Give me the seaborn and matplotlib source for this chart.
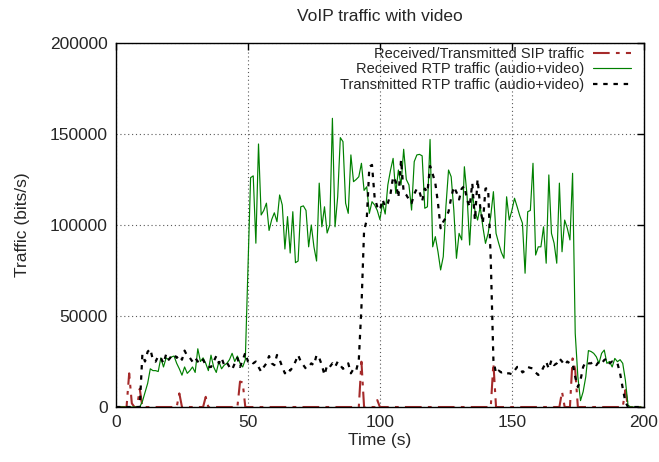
import numpy as np
import pandas as pd
import matplotlib
matplotlib.use("Agg")
import matplotlib.pyplot as plt
import seaborn as sns

# --- DATA (one sample per second) ---
time_s = np.arange(200)

sip_traffic = [
    0, 0, 0, 0, 0, 18500, 2000, 0, 0, 10000,
    0, 0, 0, 0, 0, 0, 0, 0, 0, 0,
    0, 0, 0, 0, 7500, 0, 0, 0, 0, 0,
    0, 0, 0, 0, 5600, 0, 0, 0, 0, 0,
    0, 0, 0, 0, 0, 0, 0, 14000, 13500, 0,
    0, 0, 0, 0, 0, 0, 0, 0, 0, 0,
    0, 0, 0, 0, 0, 0, 0, 0, 0, 0,
    0, 0, 0, 0, 0, 0, 0, 0, 0, 0,
    0, 0, 0, 0, 0, 0, 0, 0, 0, 0,
    0, 0, 0, 24900, 0, 0, 0, 0, 0, 3800,
    0, 0, 0, 0, 0, 0, 0, 0, 0, 0,
    0, 0, 0, 0, 0, 0, 0, 0, 0, 0,
    0, 0, 0, 0, 0, 0, 0, 0, 0, 0,
    0, 0, 0, 0, 0, 0, 0, 0, 0, 0,
    0, 0, 0, 24000, 0, 0, 0, 0, 0, 0,
    0, 0, 0, 0, 0, 0, 0, 0, 0, 0,
    0, 0, 0, 0, 0, 0, 0, 0, 0, 8400,
    0, 0, 0, 26700, 20300, 0, 0, 0, 0, 0,
    0, 0, 0, 0, 0, 0, 0, 0, 0, 0,
    0, 0, 0, 9300, 0, 0, 0, 0, 0, 0,
]

rtp_received = [
    0, 0, 0, 0, 0, 0, 0, 0, 0, 0,
    3000, 8000, 13000, 21000, 20000, 20000, 19500, 27000, 22000, 27000,
    26000, 27500, 28000, 24000, 21000, 17500, 22000, 18500, 20000, 22000,
    19000, 32000, 25000, 27000, 24000, 20000, 28500, 22000, 19000, 25000,
    21000, 23000, 24000, 26000, 29500, 25000, 28000, 24000, 22000, 26000,
    75000, 126000, 127000, 90000, 144500, 105500, 108000, 112000, 97000, 103000,
    106700, 101800, 116500, 111000, 86800, 104600, 84600, 107300, 79300, 80200,
    110000, 110500, 108000, 88000, 100000, 88000, 80200, 123000, 99000, 110000,
    95600, 100000, 158600, 99000, 115500, 148000, 145800, 112000, 106400, 138500,
    123800, 125000, 126500, 133900, 119000, 121000, 106400, 112800, 111000, 108000,
    103000, 112000, 106000, 122000, 130000, 136600, 117400, 130200, 122000, 141600,
    125000, 122000, 108200, 134800, 138500, 138800, 138000, 109200, 110000, 147000,
    88000, 93600, 85300, 75300, 82600, 110000, 130200, 126500, 108200, 81700,
    95400, 91800, 132000, 116500, 89000, 117000, 108000, 102700, 110000, 99000,
    89900, 95400, 105000, 118300, 95400, 90000, 85000, 81700, 115500, 102700,
    108000, 114700, 110000, 105000, 101000, 73500, 107300, 108000, 133900, 83500,
    88000, 88000, 99000, 79000, 127500, 95400, 90000, 79000, 123000, 85300,
    102700, 98200, 91800, 128400, 40500, 16600, 3500, 8400, 16600, 31000,
    30500, 29500, 27600, 24000, 29500, 31300, 24000, 25000, 22000, 26700,
    24900, 26000, 24000, 14800, 1000, 0, 0, 0, 0, 0,
]

rtp_transmitted = [
    0, 0, 0, 0, 0, 0, 0, 0, 0, 0,
    29000, 25000, 30400, 31900, 25800, 24900, 28000, 27000, 24000, 29000,
    26000, 28000, 29000, 27000, 28500, 26000, 31000, 28000, 27000, 24900,
    27000, 25000, 24000, 26000, 23000, 22000, 22000, 25000, 28000, 24000,
    27000, 23000, 24500, 22000, 20500, 24000, 27000, 22000, 25800, 29800,
    25000, 25800, 24000, 25000, 22000, 19400, 22000, 24000, 28000, 24000,
    23000, 28600, 26000, 22000, 18500, 21000, 20000, 22000, 25000, 28600,
    25000, 23000, 21000, 22000, 24000, 23000, 28600, 27000, 23000, 17600,
    23000, 22000, 24000, 22000, 24900, 23000, 21000, 22000, 24000, 18500,
    21000, 20000, 25800, 55000, 97000, 102700, 132000, 133000, 115000, 110000,
    108200, 114000, 110000, 112000, 117000, 126500, 123800, 115000, 135700, 118000,
    116500, 114000, 112000, 117000, 120000, 118300, 113000, 120000, 118000, 132400,
    128000, 122900, 112000, 98200, 101800, 104000, 107300, 115000, 121000, 118000,
    114000, 120000, 121400, 114000, 110000, 123000, 102700, 125100, 110000, 101000,
    120000, 120200, 80800, 25800, 18500, 20000, 19000, 19500, 18500, 18500,
    18000, 20000, 22000, 22000, 19000, 20000, 22000, 21500, 21200, 19000,
    17600, 19000, 22000, 24900, 21000, 25800, 23000, 24000, 26700, 25000,
    23000, 25000, 24000, 24000, 16600, 11000, 14800, 22000, 24900, 24000,
    24000, 25000, 23000, 25000, 24000, 25800, 26700, 24000, 25000, 24000,
    24000, 18500, 10300, 2900, 0, 0, 0, 0, 0, 0,
]

x_ticks = [0, 50, 100, 150, 200]
y_ticks = [0, 50000, 100000, 150000, 200000]

df = pd.DataFrame({
    "time": time_s,
    "sip": sip_traffic,
    "rx": rtp_received,
    "tx": rtp_transmitted,
})

# --- STYLE ---
sns.set_style("white")
plt.rcParams["font.family"] = ["Liberation Sans", "DejaVu Sans"]
plt.rcParams["xtick.direction"] = "in"
plt.rcParams["ytick.direction"] = "in"

fig, ax = plt.subplots(figsize=(6.59, 4.62), dpi=100)
fig.subplots_adjust(left=0.176, right=0.977, bottom=0.119, top=0.907)

sns.lineplot(data=df, x="time", y="sip", ax=ax, color="#a52a2a", linewidth=1.5,
             linestyle=(0, (8, 3, 1.8, 3)), estimator=None, errorbar=None,
             label="Received/Transmitted SIP traffic")
sns.lineplot(data=df, x="time", y="rx", ax=ax, color="#008000", linewidth=0.85,
             estimator=None, errorbar=None,
             label="Received RTP traffic (audio+video)")
sns.lineplot(data=df, x="time", y="tx", ax=ax, color="black", linewidth=1.6,
             linestyle=(0, (2.0, 2.6)), estimator=None, errorbar=None,
             label="Transmitted RTP traffic (audio+video)")

ax.set_xlim(0, 200)
ax.set_ylim(0, 200000)
ax.set_xticks(x_ticks)
ax.set_yticks(y_ticks)
ax.set_xticklabels([str(v) for v in x_ticks])
ax.set_yticklabels([str(v) for v in y_ticks])
ax.tick_params(axis="both", labelsize=12.5, length=5, width=1, top=True, right=True,
               color="black", pad=6)
ax.grid(True, linestyle=(0, (1, 2.5)), color="0.35", linewidth=0.8)
for s in ax.spines.values():
    s.set_color("black")
    s.set_linewidth(1)

ax.set_title("VoIP traffic with video", fontsize=12.5, pad=16)
ax.set_xlabel("Time (s)", fontsize=12.5, labelpad=2)
ax.set_ylabel("Traffic (bits/s)", fontsize=12.5, labelpad=14)

ax.legend(loc="upper right", bbox_to_anchor=(0.975, 0.99), frameon=False,
          markerfirst=False, fontsize=10.5, handlelength=2.6, handletextpad=0.6,
          labelspacing=0.12, borderaxespad=0.0, borderpad=0.0)

fig.savefig("out.png", dpi=100)
